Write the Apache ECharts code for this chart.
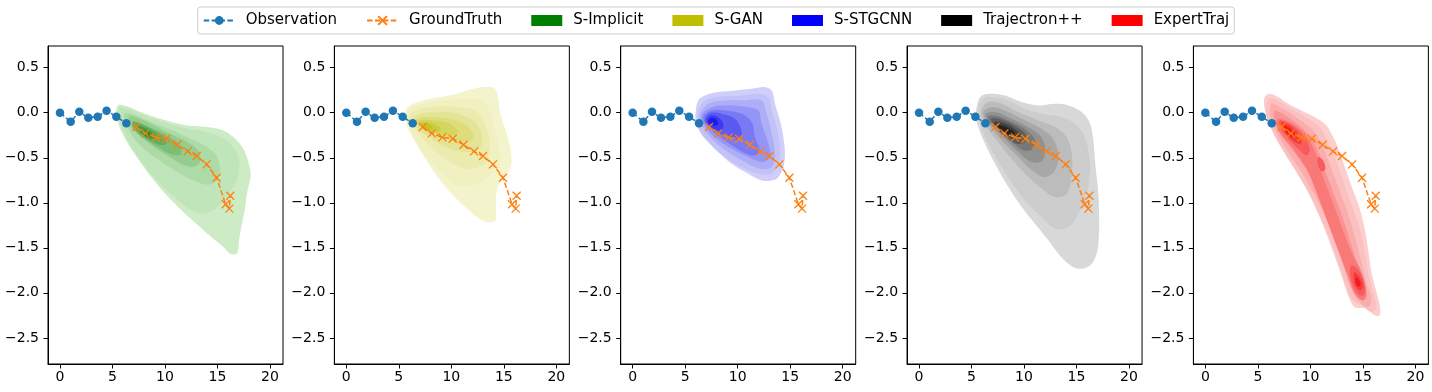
<!DOCTYPE html>
<html><head><meta charset="utf-8">
<script src="https://cdn.jsdelivr.net/npm/echarts@6/dist/echarts.min.js"></script>
<style>html,body{margin:0;padding:0;background:#fff}#c{width:1432px;height:392px}</style>
</head><body><div id="c"></div>
<script>
// ---------- data ----------
const obsX = [0, 1.02, 1.84, 2.70, 3.59, 4.44, 5.37, 6.32];
const obsY = [0, -0.10, 0.01, -0.055, -0.044, 0.022, -0.044, -0.118];
const gtX = [7.27, 8.13, 9.14, 10.13, 11.17, 12.16, 13.02, 13.97, 14.92, 15.78, 16.13, 16.22];
const gtY = [-0.159, -0.229, -0.274, -0.288, -0.355, -0.429, -0.481, -0.573, -0.721, -1.017, -1.065, -0.921];
const xTicks = [0, 5, 10, 15, 20];
const yTicks = [0.5, 0, -0.5, -1, -1.5, -2, -2.5];
const methods = ['S-Implicit', 'S-GAN', 'S-STGCNN', 'Trajectron++', 'ExpertTraj'];

// KDE contour levels: [level, polygon]
const kdeImplicit = [
 [0, [[5.71,0.092],[8.57,-0.030],[11.75,-0.133],[13.97,-0.159],[15.56,-0.196],[16.51,-0.270],[17.46,-0.399],[17.94,-0.547],[18.16,-0.695],[17.94,-0.825],[17.78,-0.917],[17.62,-1.065],[17.30,-1.250],[17.08,-1.398],[16.92,-1.546],[16.67,-1.575],[16.19,-1.564],[15.56,-1.490],[14.60,-1.398],[13.33,-1.268],[11.75,-1.102],[10.16,-0.917],[8.57,-0.695],[6.98,-0.436],[6.03,-0.251],[5.40,-0.067],[5.33,0.026]]],
 [1, [[5.78,0.063],[8.57,-0.055],[11.75,-0.166],[13.97,-0.214],[15.87,-0.307],[16.89,-0.455],[17.08,-0.621],[16.76,-0.769],[15.87,-0.936],[14.60,-1.084],[13.33,-1.121],[12.06,-1.047],[10.16,-0.862],[8.25,-0.621],[6.83,-0.381],[5.97,-0.177],[5.56,-0.03]]],
 [2, [[6.2,0.0],[8.6,-0.1],[11.75,-0.251],[14.60,-0.436],[15.24,-0.621],[14.60,-0.787],[13.02,-0.769],[10.16,-0.584],[7.62,-0.362],[6.35,-0.141]]],
 [3, [[6.67,-0.03],[10.16,-0.214],[13.02,-0.399],[13.33,-0.547],[12.38,-0.603],[10.16,-0.473],[7.94,-0.288],[6.67,-0.141]]],
 [4, [[7.0,-0.09],[8.5,-0.16],[10.0,-0.24],[11.4,-0.36],[11.5,-0.46],[10.6,-0.46],[9.0,-0.36],[7.6,-0.25],[6.9,-0.16]]],
 [5, [[6.98,-0.104],[9.21,-0.214],[10.16,-0.325],[9.84,-0.362],[8.25,-0.288],[7.14,-0.178]]],
 [6, [[7.30,-0.141],[8.57,-0.196],[9.21,-0.27],[8.57,-0.288],[7.62,-0.214]]],
 [7, [[7.9,-0.2],[8.6,-0.23],[8.7,-0.27],[8.2,-0.26]]]
];
const kdeGAN = [
 [0, [[5.74,0.044],[6.38,0.10],[7.33,0.137],[8.92,0.174],[10.50,0.210],[12.09,0.266],[13.36,0.285],[14.16,0.266],[14.47,0.155],[14.63,0.007],[15.11,-0.178],[15.58,-0.363],[15.74,-0.548],[15.43,-0.659],[14.63,-0.77],[14.31,-0.88],[14.25,-1.03],[14.25,-1.18],[14.00,-1.214],[13.36,-1.214],[12.41,-1.158],[11.14,-1.028],[9.87,-0.88],[8.60,-0.696],[7.33,-0.474],[6.38,-0.289],[5.74,-0.141],[5.59,-0.048]]],
 [1, [[5.90,0.026],[7.33,0.10],[9.24,0.137],[11.46,0.155],[13.05,0.137],[13.68,0.007],[14.16,-0.215],[14.63,-0.437],[14.63,-0.585],[13.68,-0.696],[12.09,-0.807],[10.51,-0.807],[8.92,-0.659],[7.33,-0.437],[6.38,-0.252],[6.00,-0.104]]],
 [2, [[6.06,-0.012],[7.97,0.063],[10.51,0.063],[12.41,0.007],[13.36,-0.178],[13.68,-0.40],[13.36,-0.548],[12.09,-0.622],[10.51,-0.585],[8.60,-0.437],[7.01,-0.252],[6.22,-0.104]]],
 [3, [[6.38,-0.049],[8.28,0.007],[10.51,-0.012],[12.25,-0.104],[12.89,-0.252],[12.73,-0.40],[11.46,-0.437],[9.55,-0.382],[7.65,-0.252],[6.54,-0.141]]],
 [4, [[6.70,-0.067],[8.60,-0.049],[10.51,-0.086],[11.78,-0.178],[12.09,-0.289],[11.14,-0.326],[9.24,-0.289],[7.65,-0.215],[6.86,-0.141]]],
 [5, [[6.86,-0.086],[8.28,-0.086],[9.87,-0.123],[10.67,-0.215],[10.19,-0.252],[8.60,-0.234],[7.33,-0.178]]],
 [6, [[7.01,-0.104],[8.13,-0.111],[8.92,-0.160],[8.76,-0.215],[7.81,-0.197],[7.17,-0.148]]],
 [7, [[7.17,-0.123],[7.97,-0.134],[8.28,-0.178],[7.65,-0.178]]]
];
const kdeSTGCNN = [
 [0, [[6.00,0.007],[6.25,0.137],[6.88,0.192],[8.15,0.229],[9.74,0.248],[11.33,0.266],[12.60,0.284],[13.24,0.248],[13.55,0.100],[14.03,-0.085],[14.35,-0.27],[14.50,-0.455],[14.35,-0.60],[13.87,-0.715],[13.24,-0.752],[12.28,-0.752],[11.01,-0.678],[9.42,-0.567],[8.15,-0.437],[7.20,-0.326],[6.41,-0.215],[6.00,-0.104]]],
 [1, [[6.25,0.025],[6.89,0.137],[8.47,0.181],[10.38,0.192],[11.97,0.21],[12.92,0.174],[13.24,0.025],[13.71,-0.159],[14.03,-0.382],[13.87,-0.567],[13.24,-0.677],[11.97,-0.677],[10.38,-0.603],[8.79,-0.493],[7.52,-0.363],[6.57,-0.234],[6.19,-0.085]]],
 [2, [[6.41,-0.012],[7.20,0.10],[8.79,0.137],[10.70,0.137],[12.28,0.137],[12.76,-0.012],[13.24,-0.234],[13.55,-0.456],[13.24,-0.603],[12.12,-0.622],[10.70,-0.548],[9.11,-0.437],[7.84,-0.326],[6.89,-0.197],[6.41,-0.104]]],
 [3, [[6.57,-0.03],[7.52,0.062],[9.11,0.081],[11.01,0.062],[11.97,0.025],[12.28,-0.122],[12.92,-0.345],[13.08,-0.492],[12.28,-0.548],[11.01,-0.492],[9.43,-0.40],[8.0,-0.289],[7.04,-0.178]]],
 [4, [[6.73,-0.049],[7.52,0.025],[8.79,0.025],[10.38,-0.012],[11.33,-0.104],[11.65,-0.27],[12.12,-0.437],[11.33,-0.474],[9.74,-0.382],[8.32,-0.27],[7.20,-0.16]]],
 [5, [[6.89,-0.067],[7.36,-0.004],[8.47,-0.012],[9.74,-0.067],[10.38,-0.197],[10.22,-0.289],[9.11,-0.27],[7.84,-0.197],[7.04,-0.13]]],
 [6, [[7.04,-0.078],[7.46,-0.03],[8.16,-0.049],[8.63,-0.122],[8.47,-0.197],[7.68,-0.178],[7.14,-0.122]]],
 [7, [[7.20,-0.085],[7.52,-0.056],[8.0,-0.078],[8.09,-0.13],[7.68,-0.141],[7.27,-0.115]]]
];
const kdeTrajectron = [
 [0, [[5.49,0.062],[5.81,0.173],[6.60,0.21],[8.19,0.192],[9.78,0.118],[11.37,0.081],[12.95,0.099],[14.22,0.081],[15.49,0.007],[16.29,-0.122],[16.60,-0.307],[16.76,-0.529],[16.92,-0.714],[17.08,-0.899],[17.14,-1.121],[17.14,-1.343],[16.92,-1.565],[16.29,-1.695],[15.17,-1.732],[14.22,-1.677],[13.27,-1.565],[12.32,-1.417],[11.05,-1.232],[9.78,-1.047],[8.51,-0.825],[7.24,-0.566],[6.29,-0.344],[5.65,-0.159],[5.40,-0.03]]],
 [1, [[5.65,0.044],[6.13,0.155],[6.92,0.174],[8.51,0.137],[10.10,0.044],[11.68,-0.012],[13.59,-0.049],[14.86,-0.122],[15.65,-0.234],[16.13,-0.418],[16.29,-0.64],[15.97,-0.899],[15.18,-1.122],[14.22,-1.269],[12.95,-1.288],[11.68,-1.158],[10.10,-0.974],[8.67,-0.752],[7.40,-0.511],[6.45,-0.307],[5.81,-0.123]]],
 [2, [[5.91,0.025],[6.60,0.118],[7.87,0.10],[9.46,0.007],[11.37,-0.085],[12.95,-0.159],[14.06,-0.27],[14.54,-0.456],[14.54,-0.677],[14.06,-0.899],[12.95,-0.937],[11.52,-0.826],[10.10,-0.678],[8.67,-0.492],[7.40,-0.307],[6.45,-0.16],[5.97,-0.049]]],
 [3, [[6.13,0.007],[6.92,0.062],[8.19,0.025],[9.78,-0.067],[11.37,-0.159],[12.64,-0.27],[13.27,-0.456],[12.95,-0.64],[12.0,-0.715],[10.73,-0.64],[9.46,-0.492],[8.19,-0.345],[7.08,-0.197],[6.35,-0.085]]],
 [4, [[6.35,-0.012],[7.24,0.007],[8.51,-0.049],[10.10,-0.141],[11.52,-0.252],[12.0,-0.382],[11.75,-0.53],[10.73,-0.548],[9.46,-0.437],[8.19,-0.289],[7.08,-0.16],[6.51,-0.085]]],
 [5, [[6.60,-0.041],[7.56,-0.041],[8.83,-0.104],[10.26,-0.197],[11.05,-0.307],[10.89,-0.40],[9.94,-0.418],[8.83,-0.326],[7.71,-0.215],[6.86,-0.122]]],
 [6, [[6.86,-0.067],[7.87,-0.078],[9.14,-0.148],[10.10,-0.234],[10.10,-0.326],[9.30,-0.345],[8.35,-0.27],[7.40,-0.178]]],
 [7, [[7.18,-0.104],[8.19,-0.122],[9.30,-0.197],[9.62,-0.27],[8.98,-0.289],[8.03,-0.226],[7.40,-0.167]]],
 [8, [[7.56,-0.141],[8.51,-0.17],[9.14,-0.226],[8.67,-0.252],[7.87,-0.204]]]
];
const kdeExpert = [
 [0, [[5.65,0.174],[6.13,0.211],[6.92,0.174],[7.87,0.100],[9.14,0.026],[10.41,-0.048],[11.52,-0.141],[12.0,-0.233],[12.48,-0.344],[13.11,-0.548],[13.90,-0.807],[14.70,-1.066],[15.17,-1.288],[15.49,-1.510],[15.81,-1.768],[16.29,-1.990],[16.60,-2.138],[16.60,-2.25],[16.13,-2.25],[15.33,-2.176],[14.22,-2.157],[13.59,-2.027],[12.95,-1.805],[12.16,-1.547],[11.21,-1.25],[10.10,-0.955],[8.98,-0.696],[7.71,-0.474],[6.60,-0.252],[5.90,-0.067],[5.59,0.081]]],
 [1, [[5.97,0.155],[6.92,0.137],[8.19,0.044],[9.62,-0.049],[10.89,-0.16],[11.68,-0.326],[12.48,-0.548],[13.27,-0.807],[14.06,-1.066],[14.70,-1.288],[15.18,-1.547],[15.49,-1.769],[15.97,-1.991],[16.29,-2.158],[15.81,-2.213],[14.86,-2.139],[13.91,-2.065],[13.27,-1.88],[12.64,-1.658],[11.84,-1.399],[10.89,-1.14],[9.78,-0.881],[8.67,-0.659],[7.40,-0.419],[6.35,-0.197],[5.81,-0.012]]],
 [2, [[6.29,0.10],[7.40,0.044],[8.83,-0.067],[10.26,-0.197],[11.21,-0.382],[12.0,-0.622],[12.95,-0.918],[13.75,-1.177],[14.38,-1.436],[14.86,-1.658],[15.33,-1.88],[15.81,-2.065],[15.49,-2.158],[14.54,-2.084],[13.75,-1.917],[13.11,-1.695],[12.32,-1.436],[11.52,-1.177],[10.41,-0.918],[9.14,-0.659],[7.87,-0.437],[6.76,-0.215],[6.22,-0.049]]],
 [3, [[6.60,0.026],[7.87,-0.049],[9.30,-0.178],[10.41,-0.345],[11.21,-0.585],[12.16,-0.881],[13.11,-1.177],[13.91,-1.473],[14.54,-1.695],[15.18,-1.917],[15.33,-2.065],[14.70,-2.028],[13.91,-1.88],[13.27,-1.621],[12.48,-1.325],[11.52,-1.029],[10.41,-0.77],[9.14,-0.548],[7.87,-0.345],[6.86,-0.16],[6.54,-0.049]]],
 [4, [[6.92,-0.067],[8.19,-0.111],[9.46,-0.234],[10.41,-0.419],[11.05,-0.659],[12.0,-0.955],[12.95,-1.251],[13.91,-1.547],[14.86,-1.769],[15.33,-1.991],[15.02,-2.084],[14.22,-2.01],[13.43,-1.769],[12.48,-1.473],[11.52,-1.177],[10.57,-0.881],[9.62,-0.622],[8.35,-0.40],[7.24,-0.252],[6.79,-0.141]]],
 [5, [[7.08,-0.086],[8.19,-0.134],[9.30,-0.252],[9.94,-0.40],[9.62,-0.474],[8.83,-0.40],[7.87,-0.289],[7.17,-0.178]]],
 [5, [[13.91,-1.695],[14.60,-1.751],[15.11,-1.88],[15.18,-2.01],[14.70,-2.028],[14.06,-1.917],[13.78,-1.788]]],
 [5, [[10.73,-0.493],[11.21,-0.53],[11.43,-0.622],[11.11,-0.652],[10.73,-0.585]]],
 [6, [[7.24,-0.104],[8.13,-0.148],[8.98,-0.252],[9.14,-0.345],[8.51,-0.326],[7.71,-0.234],[7.30,-0.16]]],
 [6, [[14.16,-1.769],[14.70,-1.825],[15.02,-1.936],[14.70,-1.973],[14.22,-1.899]]],
 [7, [[7.40,-0.134],[8.03,-0.171],[8.51,-0.245],[8.19,-0.27],[7.62,-0.215]]],
 [7, [[14.38,-1.825],[14.79,-1.899],[14.54,-1.936],[14.29,-1.88]]]
];
const kdeSets = [kdeImplicit, kdeGAN, kdeSTGCNN, kdeTrajectron, kdeExpert];

// ---------- style ----------
const baseColors = ['#008000', '#bfbf00', '#0000ff', '#000000', '#ff0000'];
const lightColors = [[205,236,198],[244,244,204],[207,207,250],[216,216,216],[252,206,206]];
const darkColors = [[30,140,30],[195,195,35],[25,25,240],[35,35,35],[245,25,25]];
const FONT = 'DejaVu Sans';
const gridLeft0 = 48, gridStep = 286.35, gridW = 235, gridTop = 46, gridH = 318;
const XMIN = -1.14, XMAX = 21.24, YMIN = -2.79, YMAX = 0.741;

function levelColor(p, lvl, maxLvl) {
  const t = Math.pow(maxLvl > 0 ? lvl / maxLvl : 0, 1.35);
  const a = lightColors[p], b = darkColors[p];
  const c = a.map((v, i) => Math.round(v + (b[i] - v) * t));
  return 'rgb(' + c.join(',') + ')';
}
const fmtY = v => (v < 0 ? '\u2212' : '') + Math.abs(v).toFixed(1);

const grids = [], xAxes = [], yAxes = [], series = [];
for (let k = 0; k < 5; k++) {
  grids.push({left: gridLeft0 + gridStep * k, top: gridTop, width: gridW, height: gridH,
    show: true, borderColor: '#000', borderWidth: 1, backgroundColor: 'transparent', containLabel: false});
  xAxes.push({gridIndex: k, type: 'value', min: XMIN, max: XMAX,
    axisLine: {show: true, onZero: false, lineStyle: {color: '#000', width: 1}},
    axisTick: {show: true, length: 4.5, lineStyle: {color: '#000', width: 1}, customValues: xTicks},
    axisLabel: {customValues: xTicks, fontSize: 14, fontFamily: FONT, color: '#000', margin: 6},
    splitLine: {show: false}});
  yAxes.push({gridIndex: k, type: 'value', min: YMIN, max: YMAX,
    axisLine: {show: true, onZero: false, lineStyle: {color: '#000', width: 1}},
    axisTick: {show: true, length: 4.5, lineStyle: {color: '#000', width: 1}, customValues: yTicks},
    axisLabel: {customValues: yTicks, fontSize: 14, fontFamily: FONT, color: '#000', margin: 9, formatter: fmtY},
    splitLine: {show: false}});

  const polys = kdeSets[k];
  const maxLvl = Math.max(...polys.map(p => p[0]));
  series.push({
    name: methods[k], type: 'custom', xAxisIndex: k, yAxisIndex: k, z: 1,
    coordinateSystem: 'cartesian2d', silent: true, clip: true,
    itemStyle: {color: baseColors[k]},
    data: polys.map((p, i) => [p[1][0][0], p[1][0][1], i]),
    renderItem: (params, api) => {
      const poly = polys[params.dataIndex];
      const pts = poly[1].map(pt => api.coord(pt));
      return {type: 'polygon', shape: {points: pts, smooth: 0.35},
        style: {fill: levelColor(k, poly[0], maxLvl), stroke: null}};
    }
  });
  series.push({
    name: 'Observation', type: 'line', xAxisIndex: k, yAxisIndex: k, z: 3,
    data: obsX.map((x, i) => [x, obsY[i]]),
    symbol: 'circle', symbolSize: 8.5, showSymbol: true,
    lineStyle: {color: '#1f77b4', width: 1.5, type: [5.5, 2.4]},
    itemStyle: {color: '#1f77b4'}, silent: true
  });
  series.push({
    name: 'GroundTruth', type: 'line', xAxisIndex: k, yAxisIndex: k, z: 4,
    data: gtX.map((x, i) => [x, gtY[i]]),
    symbol: 'path://M0,0L10,10M10,0L0,10', symbolSize: 8,
    lineStyle: {color: '#ff7f0e', width: 1.5, type: [5.5, 2.4]},
    itemStyle: {color: '#ff7f0e', borderColor: '#ff7f0e', borderWidth: 1.3}, silent: true
  });
}

const chart = echarts.init(document.getElementById('c'), null, {renderer: 'canvas'});
chart.setOption({
  animation: false,
  backgroundColor: '#fff',
  legend: {
    top: 7, left: 'center', orient: 'horizontal',
    padding: [6, 5], itemGap: 29, itemWidth: 31, itemHeight: 11,
    borderColor: '#cccccc', borderWidth: 1, borderRadius: 3, backgroundColor: '#fff',
    textStyle: {fontSize: 15, fontFamily: FONT, color: '#000', padding: [0, 0, 0, 6]},
    selectedMode: false,
    data: [{name: 'Observation'}, {name: 'GroundTruth'}].concat(methods.map(m => ({name: m, icon: 'rect'})))
  },
  grid: grids, xAxis: xAxes, yAxis: yAxes, series: series
});
</script></body></html>
